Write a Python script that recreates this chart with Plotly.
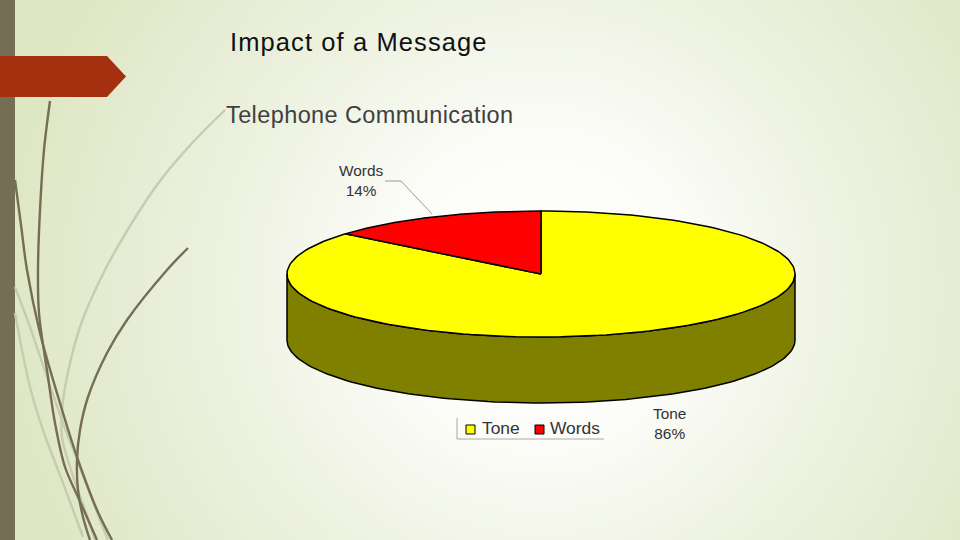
import numpy as np
import plotly.graph_objects as go

title_text = "Impact of a Message"
subtitle_text = "Telephone Communication"
categories = ["Tone", "Words"]
shares = [86, 14]
slice_colors = ["#FFFF00", "#FF0000"]
side_color = "#808000"

# decorative strands of the slide theme (pixel positions)
dark_strands = [
    ([15, 21, 27, 40, 60, 77, 97, 112], [180, 225, 270, 333, 403, 457, 510, 540]),
    ([50, 44, 40, 38, 39, 48, 55, 65, 78, 97], [101, 150, 210, 270, 313, 377, 423, 467, 497, 540]),
    ([188, 167, 127, 107, 88, 80, 77, 78, 83, 90], [248, 270, 320, 353, 397, 430, 460, 490, 517, 540]),
]
light_strands = [
    ([225, 195, 163, 140, 105, 80, 67, 62, 62, 70, 85, 95], [110, 140, 177, 210, 270, 327, 377, 410, 437, 467, 510, 540]),
    ([15, 30, 47, 63, 80, 100, 108], [287, 327, 377, 423, 467, 520, 540]),
    ([15, 30, 43, 63, 83], [313, 387, 430, 483, 537]),
]

# pie geometry on the slide
cx, cy, rx, ry, depth = 541, 274, 254, 63, 66


def ell(deg, dy=0):
    t = np.radians(deg)
    return cx + rx * np.sin(t), cy - ry * np.cos(t) + dy


fig = go.Figure()

# slide background: a square box so that the radial gradient is circular
fig.add_trace(go.Scatter(
    x=[0, 1080, 1080, 0, 0], y=[-250, -250, 830, 830, -250], mode="lines", line=dict(width=0),
    fill="toself", hoverinfo="skip",
    fillgradient=dict(type="radial",
                      colorscale=[[0, "#FFFFFF"], [0.27, "#FCFDF9"], [0.54, "#EFF3E3"], [0.8, "#E5ECD2"], [1, "#DEE7C3"]]),
))
fig.add_trace(go.Scatter(x=[0, 15, 15, 0, 0], y=[0, 0, 540, 540, 0], mode="lines", line=dict(width=0),
                         fill="toself", fillcolor="#766D55", hoverinfo="skip"))
for xs, ys in light_strands:
    fig.add_trace(go.Scatter(x=xs, y=ys, mode="lines", line=dict(color="#C6CCB2", width=2.4, shape="spline"), hoverinfo="skip"))
for xs, ys in dark_strands:
    fig.add_trace(go.Scatter(x=xs, y=ys, mode="lines", line=dict(color="#766D55", width=2.4, shape="spline"), hoverinfo="skip"))
fig.add_trace(go.Scatter(x=[0, 107, 126, 107, 0, 0], y=[56, 56, 76.5, 97, 97, 56], mode="lines", line=dict(width=0),
                         fill="toself", fillcolor="#A5300F", hoverinfo="skip"))

# side wall (front half of the pie), then the slices on top
th = np.linspace(90, 270, 121)
xt, yt = ell(th)
xb, yb = ell(th[::-1], depth)
fig.add_trace(go.Scatter(x=np.r_[xt, xb, xt[0]], y=np.r_[yt, yb, yt[0]], mode="lines",
                         line=dict(color="#000000", width=1.5), fill="toself", fillcolor=side_color, hoverinfo="skip"))
start = 0.0
for name, share, col in zip(categories, shares, slice_colors):
    end = start + 360 * share / sum(shares)
    a = np.linspace(start, end, 181)
    xs, ys = ell(a)
    fig.add_trace(go.Scatter(x=np.r_[cx, xs, cx], y=np.r_[cy, ys, cy], mode="lines", name=name,
                             line=dict(color="#000000", width=1.5), fill="toself", fillcolor=col))
    start = end

# leader line for Words
fig.add_trace(go.Scatter(x=[385, 401, 432], y=[181, 181, 214], mode="lines", line=dict(color="#808080", width=0.8), hoverinfo="skip"))

# legend frame and keys
fig.add_trace(go.Scatter(x=[457, 457, 604], y=[418, 439, 439], mode="lines", line=dict(color="#A8A8A8", width=1), hoverinfo="skip"))
fig.add_trace(go.Scatter(x=[470.5, 539.5], y=[429.5, 429.5], mode="markers",
                         marker=dict(symbol="square", size=9, color=slice_colors, line=dict(color="#000000", width=1)), hoverinfo="skip"))

notes = [
    (title_text, 228, 42, 25.5, "#111111", "left"),
    (subtitle_text, 224, 115, 23.5, "#404040", "left"),
    (f"{categories[1]}<br>{shares[1]}%", 361, 180, 15.4, "#333333", "center"),
    (f"{categories[0]}<br>{shares[0]}%", 669, 423, 15.4, "#333333", "center"),
    (categories[0], 480, 428, 17.4, "#333333", "left"),
    (categories[1], 548, 428, 17.4, "#333333", "left"),
]
for txt, x, y, size, col, anchor in notes:
    fig.add_annotation(x=x, y=y, text=txt, showarrow=False, xanchor=anchor, yanchor="middle", align=anchor,
                       font=dict(family="Liberation Sans", size=size, color=col))

fig.update_layout(
    width=960, height=540, margin=dict(l=0, r=0, t=0, b=0), showlegend=False,
    paper_bgcolor="#F2F5E8", plot_bgcolor="rgba(0,0,0,0)",
    xaxis=dict(range=[0, 960], visible=False, fixedrange=True),
    yaxis=dict(range=[540, 0], visible=False, fixedrange=True),
)
page_js = """
document.body.style.margin = '0';
document.documentElement.style.overflow = 'hidden';
document.querySelectorAll('.annotation-text').forEach(function (t) {
  if (t.textContent === 'Impact of a Message') { t.style.letterSpacing = '1.1px'; }
  if (t.textContent === 'Telephone Communication') { t.style.letterSpacing = '0.4px'; }
});
"""
fig.write_html("out.html", config={"displayModeBar": False}, post_script=page_js)
